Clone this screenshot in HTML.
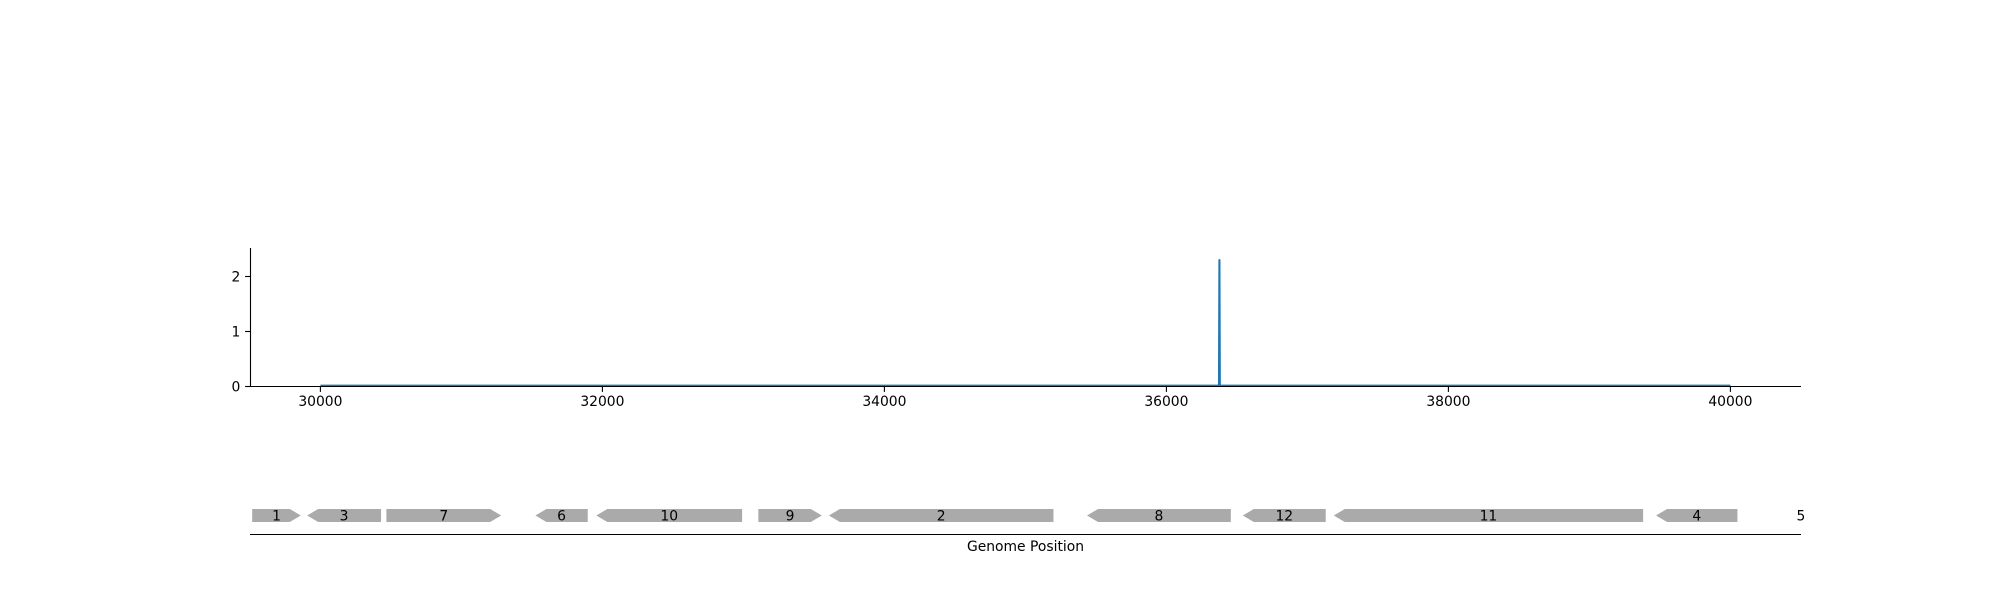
<!DOCTYPE html>
<html lang="en">
<head>
<meta charset="utf-8">
<title>Genome coverage chart</title>
<style>
html,body{margin:0;padding:0;background:#fff;width:2000px;height:600px;overflow:hidden}
svg{display:block}
text{font-family:"DejaVu Sans","Liberation Sans",sans-serif;font-size:13.89px;fill:#000}
</style>
</head>
<body>
<svg id="chart" xmlns="http://www.w3.org/2000/svg" width="2000" height="600" viewBox="0 0 2000 600">
  <rect x="0" y="0" width="2000" height="600" fill="#fff"></rect>
  <defs>
    <clipPath id="gene-clip"><rect x="250" y="495" width="1551" height="39"></rect></clipPath>
  </defs>
  <g id="signal-layer"></g>
  <g id="axis-layer"></g>
  <g id="gene-layer"></g>
  <line x1="250" y1="534.5" x2="1801" y2="534.5" stroke="#000" stroke-width="1.11"></line>
  <text x="1025.5" y="551" text-anchor="middle">Genome Position</text>
</svg>
<script>
var positions = [30000, 36373, 36376, 36379, 40000];
var coverage = [0.015, 0.015, 2.3, 0.015, 0.015];
var xTicks = [30000, 32000, 34000, 36000, 38000, 40000];
var yTicks = [0, 1, 2];
var geneLabels = ['1', '3', '7', '6', '10', '9', '2', '8', '12', '11', '4', '5'];
var geneStarts = [29516, 29906, 30468, 31525, 31957, 33106, 33606, 35437, 36542, 37187, 39473, 40500];
var geneEnds = [29861, 30430, 31282, 31896, 32991, 33556, 35199, 36457, 37130, 39381, 40050, 40500];
var geneStrands = [1, -1, 1, -1, -1, 1, -1, -1, -1, -1, -1, 1];

var NS = 'http://www.w3.org/2000/svg';
function xScale(p) { return 320.4 + (p - 30000) * 0.141; }
function yScale(v) { return 386.5 - v * 55; }
function make(tag, parent) {
  var el = document.createElementNS(NS, tag);
  parent.appendChild(el);
  return el;
}
function setAll(el, props) {
  for (var k in props) { el.setAttribute(k, props[k]); }
}

var signalLayer = document.getElementById('signal-layer');
var axisLayer = document.getElementById('axis-layer');
var geneLayer = document.getElementById('gene-layer');

var pts = positions.map(function (p, i) { return xScale(p).toFixed(2) + ',' + yScale(coverage[i]).toFixed(2); }).join(' ');
var signalLine = make('polyline', signalLayer);


setAll(signalLine, { points: pts, fill: 'none', stroke: '#1f77b4', 'stroke-width': 2.08, 'stroke-linejoin': 'round', 'stroke-linecap': 'butt' });

var ySpine = make('line', axisLayer);


setAll(ySpine, { x1: 250.5, y1: 248, x2: 250.5, y2: 387, stroke: '#000', 'stroke-width': 1.11 });

var xSpine = make('line', axisLayer);


setAll(xSpine, { x1: 250, y1: 386.5, x2: 1801, y2: 386.5, stroke: '#000', 'stroke-width': 1.11 });

xTicks.forEach(function (t) {
  var x = xScale(t);
  var tick = make('line', axisLayer);
  
  
  setAll(tick, { x1: x, y1: 386.5, x2: x, y2: 391.9, stroke: '#000', 'stroke-width': 1.11 });
  var label = make('text', axisLayer);
  
  
  setAll(label, { x: x, y: 406, 'text-anchor': 'middle' });
  label.textContent = String(t);
});

yTicks.forEach(function (t) {
  var y = yScale(t);
  var tick = make('line', axisLayer);
  
  
  setAll(tick, { x1: 245.1, y1: y, x2: 250.5, y2: y, stroke: '#000', 'stroke-width': 1.11 });
  var label = make('text', axisLayer);
  
  
  setAll(label, { x: 240.3, y: y + 5, 'text-anchor': 'end' });
  label.textContent = String(t);
});

var geneTop = 509, geneBottom = 522, geneMid = 515.5, headLen = 11;
geneLabels.forEach(function (name, i) {
  var a = xScale(geneStarts[i]);
  var b = xScale(geneEnds[i]);
  if (b > a) {
    var shape = make('polygon', geneLayer);
    
    
    var d;
    if (geneStrands[i] > 0) {
      d = [[a, geneTop], [b - headLen, geneTop], [b, geneMid], [b - headLen, geneBottom], [a, geneBottom]];
    } else {
      d = [[b, geneTop], [a + headLen, geneTop], [a, geneMid], [a + headLen, geneBottom], [b, geneBottom]];
    }
    setAll(shape, {
      points: d.map(function (q) { return q[0].toFixed(2) + ',' + q[1]; }).join(' '),
      fill: '#aaaaaa',
      'clip-path': 'url(#gene-clip)'
    });
  }
  var text = make('text', geneLayer);
  
  
  setAll(text, { x: (a + b) / 2, y: 520.5, 'text-anchor': 'middle' });
  text.textContent = name;
});
</script>
</body>
</html>
